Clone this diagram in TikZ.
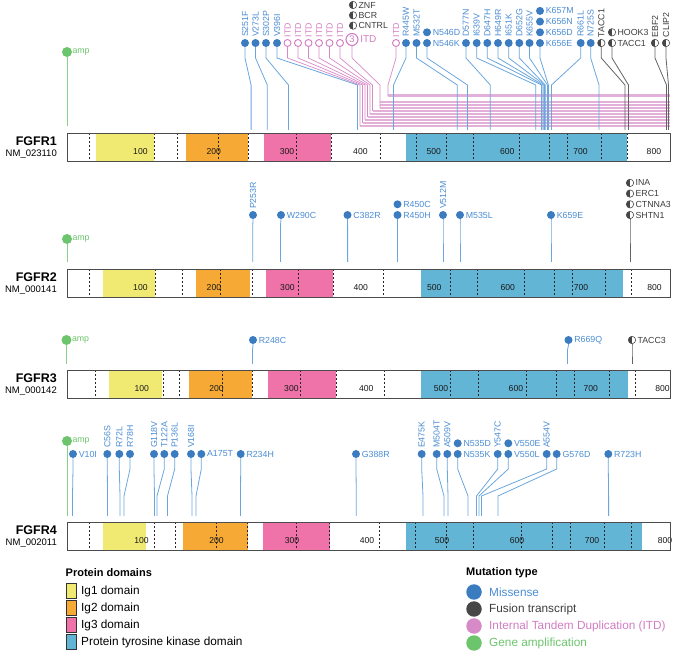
\documentclass[tikz,border=0pt]{standalone}
\usepackage{fontspec}
\setmainfont{Liberation Sans}
\usetikzlibrary{calc}
\definecolor{misblue}{HTML}{3B7CC0}
\definecolor{labblue}{HTML}{4A8CD3}
\definecolor{stemblue}{HTML}{6BA6DD}
\definecolor{fusgrey}{HTML}{474747}
\definecolor{fustxt}{HTML}{3C3C3C}
\definecolor{itdpink}{HTML}{D27DC2}
\definecolor{itdline}{HTML}{E3B0DA}
\definecolor{ampgreen}{HTML}{6CC46C}
\definecolor{dyellow}{HTML}{F1EA72}
\definecolor{dorange}{HTML}{F6A934}
\definecolor{dpink}{HTML}{EF72A8}
\definecolor{dblue}{HTML}{63B5D6}
\tikzset{
 lab/.style={font=\fontsize{8.8}{9}\selectfont, inner sep=0.6pt},
 mis/.style={circle, fill=misblue, minimum size=8pt, inner sep=0},
 fus/.style={circle, draw=fusgrey, fill=white, line width=0.6pt, minimum size=7.4pt, inner sep=0,
   path picture={\fill[fusgrey] (path picture bounding box.south west) rectangle (path picture bounding box.north);}},
 itd/.style={circle, draw=itdpink, fill=white, line width=0.9pt, minimum size=7pt, inner sep=0},
 ampc/.style={circle, fill=ampgreen, minimum size=10pt, inner sep=0},
 stemmis/.style={draw=stemblue, line width=0.8pt},
 stemfus/.style={draw=fusgrey!85, line width=0.8pt},
 stemitd/.style={draw=itdpink!90, line width=0.7pt},
 stemamp/.style={draw=ampgreen!80, line width=0.8pt},
 itdband/.style={draw=itdline, line width=2.4pt},
 labmis/.style={lab, text=labblue},
 labfus/.style={lab, text=fustxt},
 labitd/.style={lab, text=itdpink},
 labamp/.style={lab, text=ampgreen},
 barframe/.style={draw=black!70, line width=0.8pt},
 barbox/.style={minimum width=603pt, minimum height=28pt, inner sep=0, anchor=north west},
 exon/.style={draw=black!85, dash pattern=on 2.2pt off 1.8pt, line width=0.6pt},
 num/.style={font=\fontsize{8.6}{9}\selectfont, text=black!90, inner sep=0},
 gname/.style={font=\bfseries\fontsize{12.5}{14}\selectfont, anchor=east, inner sep=0},
 nm/.style={font=\fontsize{9.5}{11}\selectfont, anchor=east, inner sep=0},
 legtxt/.style={font=\fontsize{11.8}{13}\selectfont, anchor=west, inner sep=0},
 leghead/.style={font=\bfseries\fontsize{11}{13}\selectfont, anchor=west, inner sep=0},
 legbox/.style={draw=black!80, line width=0.8pt, minimum width=9.5pt, minimum height=14.5pt, inner sep=0},
 legdot/.style={circle, minimum size=15.5pt, inner sep=0},
}
\newcommand\bA{15}
\newcommand\bB{42}
% style, name, xc, yc, xtarget, yend, label
\newcommand\mutR[7]{%
 \node[#1] (#2) at (#3,#4) {};
 \coordinate (#2-e) at (#5,#6);
 \draw[stem#1] (#2) -- (#3,{#4+\bA}) -- (#5,{#4+\bB}) -- (#2-e);
 \node[lab#1, rotate=90, anchor=west] at ([yshift=1pt]#2.north) {#7};}
\newcommand\mutH[7]{%
 \node[#1] (#2) at (#3,#4) {};
 \coordinate (#2-e) at (#5,#6);
 \draw[stem#1] (#2) -- (#3,{#4+\bA}) -- (#5,{#4+\bB}) -- (#2-e);
 \node[lab#1, anchor=west] at ([xshift=0.8pt]#2.east) {#7};}
\newcommand\stackH[5]{%
 \node[#1] (#2) at (#3,#4) {};
 \node[lab#1, anchor=west] at ([xshift=0.8pt]#2.east) {#5};}
\newcommand\ampmark[4]{% name, x, y, yend
 \node[ampc] (#1) at (#2,#3) {};
 \coordinate (#1-e) at (#2,#4);
 \draw[stemamp] (#1) -- (#1-e);
 \node[labamp, anchor=west] at ([xshift=-0.5pt]#1.east) {amp};}
\begin{document}
\begin{tikzpicture}[x=1pt,y=-1pt]
\useasboundingbox (0,0) rectangle (673,652);

%================ FGFR1 =================
\node[barbox] (bar1) at (67,133) {};
\fill[dyellow] (96,133) rectangle (154,161);
\fill[dorange] (186,133) rectangle (248,161);
\fill[dpink] (264,133) rectangle (331,161);
\fill[dblue] (406,133) rectangle (627,161);
\foreach \x in {89,154,177,218,248,296,331,380,416,446,473,519,549,567,601,627}
  \draw[exon] (\x,133) -- (\x,161);
\foreach \n/\x in {100/140.4,200/213.7,300/287,400/360.4,500/433.8,600/507.2,700/580.5,800/653.9}
  \node[num] at (\x,152) {\n};
\draw[barframe] (bar1.north west) rectangle (bar1.south east);
\node[gname] (g1) at (57,141) {FGFR1};
\node[nm] (n1) at (57,154) {NM\_023110};

\ampmark{amp1}{67}{52}{126}

% ITD bands and stems
\foreach \i/\xc/\xt/\yh in {1/287.5/360/126, 2/298/362.5/123, 3/308.5/365/120, 4/319/367.5/117, 5/329.5/370/114, 6/340/372.5/111}{
  \coordinate (itdb\i) at (670,\yh);
  \coordinate (itd\i-e) at (\xt,\yh);
  \draw[itdband] (itd\i-e) -- (itdb\i);
}
\foreach \yh [count=\j] in {102,105,108}{
  \coordinate (itdc\j-s) at (380,\yh);
  \coordinate (itdc\j-f) at (670,\yh);
  \draw[itdband] (itdc\j-s) -- (itdc\j-f);
}
\coordinate (itd8-e) at (388,96);
\coordinate (itd8-f) at (670,96);
\draw[itdband, line width=3pt] (itd8-e) -- (itd8-f);

\foreach \i/\xc/\xt/\yh in {1/287.5/360/126, 2/298/362.5/123, 3/308.5/365/120, 4/319/367.5/117, 5/329.5/370/114, 6/340/372.5/111}{
  \node[itd] (itd\i) at (\xc,43) {};
  \draw[stemitd] (itd\i) -- (\xc,58) -- (\xt,85) -- (itd\i-e);
  \node[labitd, rotate=90, anchor=west] at ([yshift=1pt]itd\i.north) {ITD};
}
\node[itd, minimum size=12pt, line width=1.1pt, text=itdpink, font=\fontsize{9.5}{9}\selectfont] (itd7) at (352,39.5) {3};
\node[labitd, font=\fontsize{10}{10}\selectfont, anchor=west] at ([xshift=1pt]itd7.east) {ITD};
\draw[stemitd] (itd7) -- (352,58) -- (380,85) -- (itdc3-s);
\node[itd] (itd8) at (396,43) {};
\draw[stemitd] (itd8) -- (396,58) -- (388,85) -- (itd8-e);
\node[labitd, rotate=90, anchor=west] at ([yshift=1pt]itd8.north) {ITD};

\stackH{fus}{znf}{353}{5}{ZNF}
\stackH{fus}{bcr}{353}{15.3}{BCR}
\stackH{fus}{cntrl}{353}{25.6}{CNTRL}

\mutR{mis}{s251}{245}{43}{251.1}{130}{S251F}
\mutR{mis}{v273}{255.5}{43}{267.3}{130}{V273L}
\mutR{mis}{s302}{266}{43}{288.5}{130}{S302P}
\mutR{mis}{v396}{277}{43}{357.5}{130}{V396I}
\mutR{mis}{r445}{406}{43}{393.5}{130}{R445W}
\mutR{mis}{m532}{416.5}{43}{457.3}{130}{M532T}
\mutH{mis}{n546}{427}{43}{467.5}{130}{N546K}
\stackH{mis}{n546d}{427}{32.3}{N546D}
\mutR{mis}{d577}{466}{43}{490.3}{130}{D577N}
\mutR{mis}{i639}{476.7}{43}{535.8}{130}{I639V}
\mutR{mis}{d647}{487.3}{43}{541.6}{130}{D647H}
\mutR{mis}{h649}{498}{43}{543.1}{130}{H649R}
\mutR{mis}{i651}{508.7}{43}{544.6}{130}{I651K}
\mutR{mis}{d652}{519.3}{43}{545.3}{130}{D652G}
\mutR{mis}{k655}{529.5}{43}{547.5}{130}{K655V}
\mutH{mis}{k656}{540}{43}{548.4}{130}{K656E}
\stackH{mis}{k656d}{540}{32.3}{K656D}
\stackH{mis}{k656n}{540}{21.6}{K656N}
\stackH{mis}{k657}{540}{10.9}{K657M}
\mutR{mis}{r661}{580.7}{43}{551.5}{130}{R661L}
\mutR{mis}{n725}{590.7}{43}{599}{130}{N725S}
\mutR{fus}{tacca}{601.3}{43}{625}{130}{TACC1}
\mutH{fus}{taccb}{612}{43}{628.5}{130}{TACC1}
\stackH{fus}{hook3}{612}{32.3}{HOOK3}
\mutR{fus}{ebf2}{655}{43}{666.5}{130}{EBF2}
\mutR{fus}{clip2}{666}{43}{668.5}{130}{CLIP2}

%================ FGFR2 =================
\node[barbox] (bar2) at (67,269) {};
\fill[dyellow] (103,269) rectangle (155,297);
\fill[dorange] (196,269) rectangle (250,297);
\fill[dpink] (266,269) rectangle (333,297);
\fill[dblue] (421,269) rectangle (623,297);
\foreach \x in {89,155,182,220,252,298,333,383,450,477,524,554,572,605,631}
  \draw[exon] (\x,269) -- (\x,297);
\foreach \n/\x in {100/140.4,200/213.9,300/287.4,400/360.8,500/434.3,600/507.7,700/581.1,800/654.6}
  \node[num] at (\x,288) {\n};
\draw[barframe] (bar2.north west) rectangle (bar2.south east);
\node[gname] (g2) at (57,277) {FGFR2};
\node[nm] (n2) at (57,290) {NM\_000141};

\renewcommand\bA{5}\renewcommand\bB{10}
\ampmark{amp2}{67}{239}{262}
\mutR{mis}{p253}{253}{215}{252.8}{262}{P253R}
\mutH{mis}{w290}{281}{215}{280.5}{262}{W290C}
\mutH{mis}{c382}{347.5}{215}{347.6}{262}{C382R}
\mutH{mis}{r450}{397.5}{215}{397.5}{262}{R450H}
\stackH{mis}{r450c}{397.5}{204.3}{R450C}
\mutR{mis}{v512}{443}{215}{443}{262}{V512M}
\mutH{mis}{m535}{460}{215}{460}{262}{M535L}
\mutH{mis}{k659}{551}{215}{551}{262}{K659E}
\mutH{fus}{shtn}{630}{215}{630}{262}{SHTN1}
\stackH{fus}{ctnna}{630}{204.3}{CTNNA3}
\stackH{fus}{erc}{630}{193.6}{ERC1}
\stackH{fus}{ina}{630}{182.9}{INA}

%================ FGFR3 =================
\node[barbox] (bar3) at (67,370) {};
\fill[dyellow] (108.6,370) rectangle (162,398);
\fill[dorange] (189,370) rectangle (252,398);
\fill[dpink] (268,370) rectangle (336,398);
\fill[dblue] (420.6,370) rectangle (627.5,398);
\foreach \x in {95,163,179,222,252,300,336,384,450.6,478.5,525.8,556.7,574,609,635}
  \draw[exon] (\x,370) -- (\x,398);
\foreach \n/\x in {100/141.8,200/216.6,300/291.4,400/366.2,500/441,600/515.9,700/590.7,800/662.5}
  \node[num] at (\x,389) {\n};
\draw[barframe] (bar3.north west) rectangle (bar3.south east);
\node[gname] (g3) at (57,378) {FGFR3};
\node[nm] (n3) at (57,391) {NM\_000142};

\ampmark{amp3}{66.5}{340}{364}
\mutH{mis}{r248}{253}{340}{252.5}{364}{R248C}
\mutH{mis}{r669}{568.5}{340}{567.5}{364}{R669Q}
\mutH{fus}{tacc3}{632}{340}{632}{364}{TACC3}

%================ FGFR4 =================
\node[barbox] (bar4) at (67,522) {};
\fill[dyellow] (103,522) rectangle (146,550);
\fill[dorange] (183,522) rectangle (247.6,550);
\fill[dpink] (263,522) rectangle (329.6,550);
\fill[dblue] (405.6,522) rectangle (641.6,550);
\foreach \x in {88.8,154.5,175,216.7,246.8,296,329.6,379,415.5,446,473,521,552,570,604,631}
  \draw[exon] (\x,522) -- (\x,550);
\foreach \n/\x in {100/141.5,200/216.5,300/292,400/367,500/442,600/517,700/592,800/665}
  \node[num] at (\x,541) {\n};
\draw[barframe] (bar4.north west) rectangle (bar4.south east);
\node[gname] (g4) at (57,530) {FGFR4};
\node[nm] (n4) at (57,543) {NM\_002011};

\renewcommand\bA{15}\renewcommand\bB{42}
\ampmark{amp4}{67}{441}{516}
\mutH{mis}{v10}{73}{454}{72.5}{516}{V10I}
\mutR{mis}{c56}{107.3}{454}{107.5}{516}{C56S}
\mutR{mis}{r72}{119.3}{454}{120}{516}{R72L}
\mutR{mis}{r78}{130}{454}{124}{516}{R78H}
\mutR{mis}{g118}{154}{454}{154.5}{516}{G118V}
\mutR{mis}{t122}{164.3}{454}{157}{516}{T122A}
\mutR{mis}{p136}{174.7}{454}{167.5}{516}{P136L}
\mutR{mis}{v168}{191}{454}{192}{516}{V168I}
\mutH{mis}{a175}{201.3}{454}{196}{516}{A175T}
\mutH{mis}{r234}{240.7}{454}{240.5}{516}{R234H}
\mutH{mis}{g388}{356}{454}{356.3}{516}{G388R}
\mutR{mis}{e475}{421.7}{454}{423}{516}{E475K}
\mutR{mis}{m504}{436.7}{454}{444}{516}{M504T}
\mutR{mis}{a509}{447.3}{454}{448}{516}{A509V}
\mutH{mis}{n535}{457.7}{454}{468}{516}{N535K}
\stackH{mis}{n535d}{457.7}{443.3}{N535D}
\mutR{mis}{y547}{497.7}{454}{476.5}{516}{Y547C}
\mutH{mis}{v550}{508.3}{454}{479}{516}{V550L}
\stackH{mis}{v550e}{508.3}{443.3}{V550E}
\mutR{mis}{a554}{546.7}{454}{481.5}{516}{A554V}
\mutH{mis}{g576}{556.7}{454}{498}{516}{G576D}
\mutH{mis}{r723}{608.3}{454}{608.6}{516}{R723H}

%================ Legend =================
\node[leghead] (pdh) at (65.5,573) {Protein domains};
\node[legbox, fill=dyellow] (l1) at (71.5,591) {};
\node[legbox, fill=dorange] (l2) at (71.5,608) {};
\node[legbox, fill=dpink] (l3) at (71.5,625) {};
\node[legbox, fill=dblue] (l4) at (71.5,642) {};
\node[legtxt] (t1) at (81,591) {Ig1 domain};
\node[legtxt] (t2) at (81,608) {Ig2 domain};
\node[legtxt] (t3) at (81,625) {Ig3 domain};
\node[legtxt] (t4) at (81,642) {Protein tyrosine kinase domain};

\node[leghead] (mth) at (466,573) {Mutation type};
\node[legdot, fill=misblue] (d1) at (474,592) {};
\node[legdot, fill=fusgrey] (d2) at (474,609) {};
\node[legdot, fill=itdpink!90] (d3) at (474,626) {};
\node[legdot, fill=ampgreen] (d4) at (474,643) {};
\node[legtxt, text=labblue] (u1) at (489,592) {Missense};
\node[legtxt, text=fustxt] (u2) at (489,609) {Fusion transcript};
\node[legtxt, text=itdpink] (u3) at (489,626) {Internal Tandem Duplication (ITD)};
\node[legtxt, text=ampgreen] (u4) at (489,643) {Gene amplification};
\end{tikzpicture}
\end{document}
